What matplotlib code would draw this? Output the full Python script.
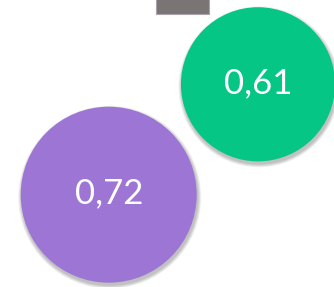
import matplotlib.pyplot as plt
from matplotlib.patches import Circle, Rectangle

labels = ['0,72', '0,61']
values = [0.72, 0.61]
colors = ['#9d76d5', '#05c685']

# layout (pixels)
cx = [108.7, 258.0]
cy = [194.7, 84.3]
r_max = 88.0

fig = plt.figure(figsize=(3.34, 2.87), dpi=100)
ax = fig.add_axes([0, 0, 1, 1])
ax.set_xlim(0, 334)
ax.set_ylim(287, 0)
ax.axis('off')

# clipped box at top
ax.add_patch(Rectangle((155.7, -2), 53.6, 16, facecolor='#7a7574',
                       edgecolor='#a8a4ab', linewidth=0.8))

for lab, v, c, x, y in zip(labels, values, colors, cx, cy):
    r = r_max * (v / max(values)) ** 0.8
    # soft shadow
    for k in range(6):
        ax.add_patch(Circle((x + 1.0, y + 2.5), r + 0.5 + k * 0.6,
                            facecolor='black', edgecolor='none', alpha=0.045))
    ax.add_patch(Circle((x, y), r, facecolor=c, edgecolor='none'))
    ax.text(x, y - 1, lab, color='white', fontsize=25, family='Lato',
            fontweight='normal', ha='center', va='center')

fig.savefig('out.png', dpi=100)
